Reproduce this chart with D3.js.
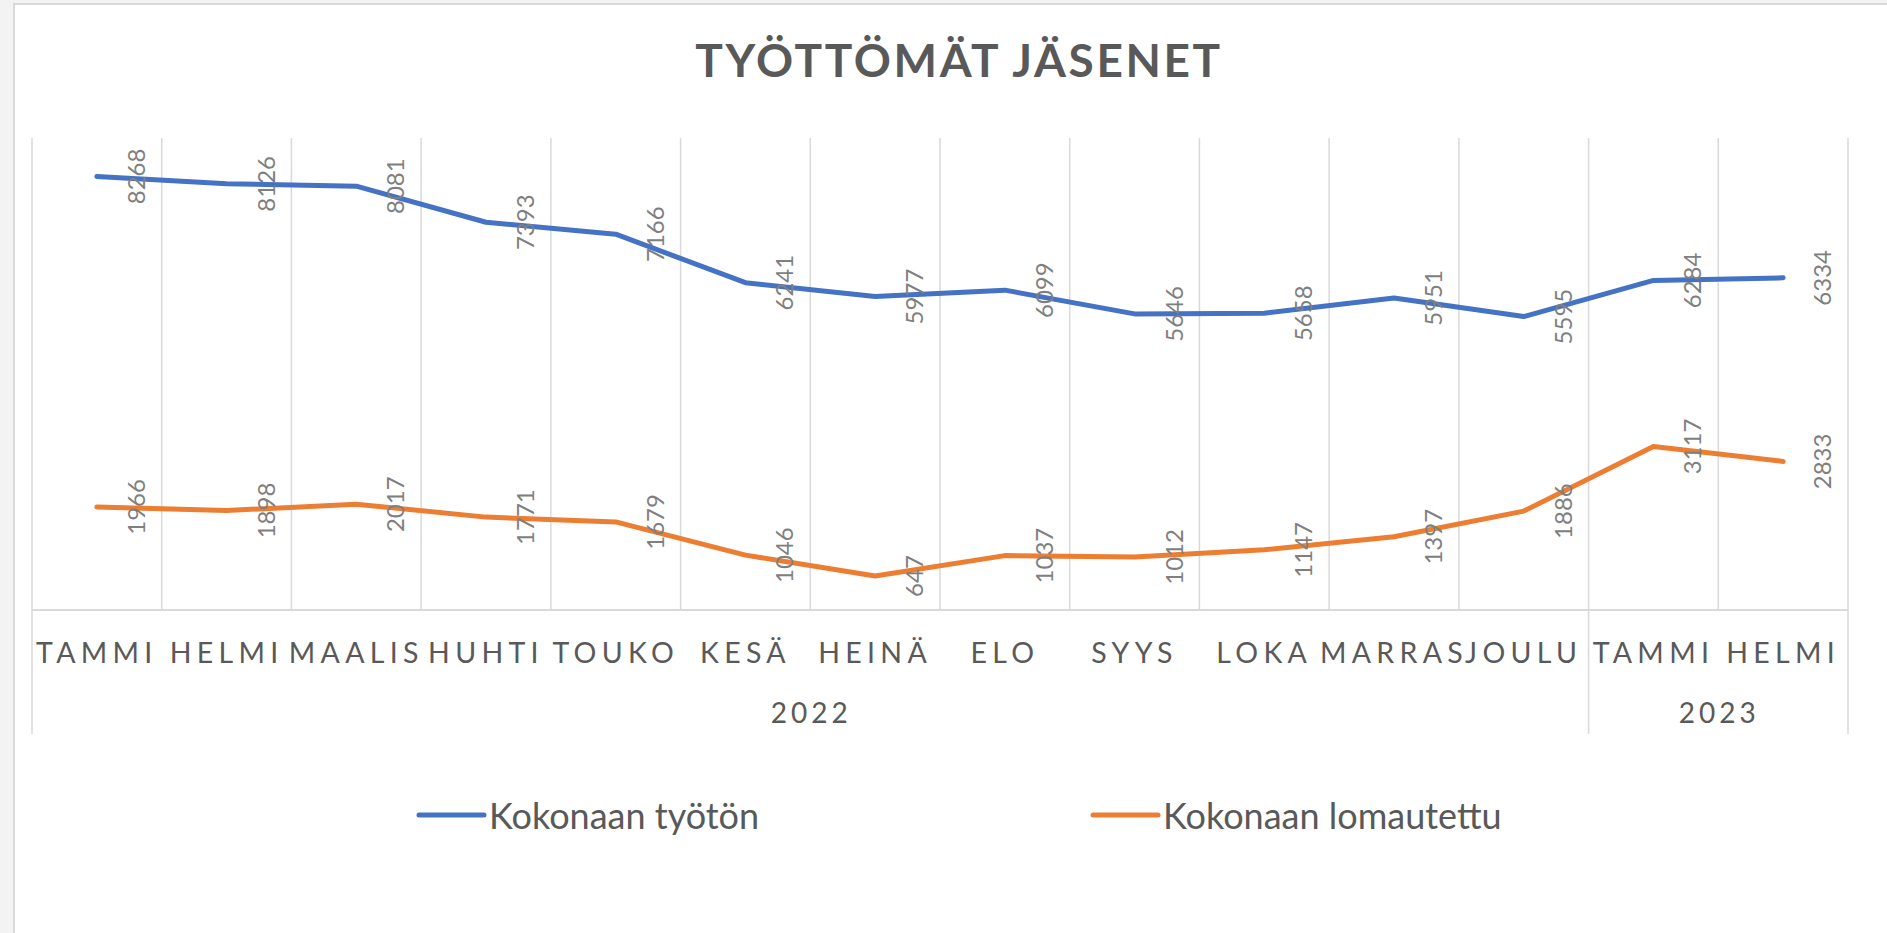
<!DOCTYPE html>
<html>
<head>
<meta charset="utf-8">
<script src="https://cdn.jsdelivr.net/npm/d3@7"></script>
<style>
  html, body { margin: 0; padding: 0; background: #f3f3f3; }
  svg { display: block; }
  text { font-family: Lato, "Open Sans", sans-serif; }
</style>
</head>
<body>
<div id="chart"></div>
<script>
// months on the x axis, with the year group each belongs to
const months = ["TAMMI", "HELMI", "MAALIS", "HUHTI", "TOUKO", "KESÄ", "HEINÄ", "ELO", "SYYS", "LOKA", "MARRAS", "JOULU", "TAMMI", "HELMI"]
const years = ["2022", "2022", "2022", "2022", "2022", "2022", "2022", "2022", "2022", "2022", "2022", "2022", "2023", "2023"]

const seriesNames = ["Kokonaan työtön", "Kokonaan lomautettu"]
const tyoton = [8268, 8126, 8081, 7393, 7166, 6241, 5977, 6099, 5646, 5658, 5951, 5595, 6284, 6334]
const lomautettu = [1966, 1898, 2017, 1771, 1679, 1046, 647, 1037, 1012, 1147, 1397, 1886, 3117, 2833]
const colors = ["#4472c4", "#ed7d31"]

const yMax = 9000

const width = 1887, height = 933
const margin = ({ top: 138, right: 39, bottom: 323, left: 32 })

const svg = d3.select('#chart')
    .append('svg')
    .attr('width', width)
    .attr('height', height)

// white chart panel with a thin grey edge
svg.append('rect')
    .attr('x', 14).attr('y', 4)
    .attr('width', width + 10).attr('height', height + 10)
    .attr('fill', '#fff')
    .attr('stroke', '#d9d9d9')
    .attr('stroke-width', 2)

const x = d3.scaleBand()
    .domain(d3.range(months.length))
    .range([margin.left, width - margin.right])

const y = d3.scaleLinear()
    .domain([0, yMax])
    .range([height - margin.bottom, margin.top])

const axisY = y(0)
const groupBottom = 734

// vertical gridlines on category boundaries
const bounds = d3.range(months.length + 1).map(i => i < months.length ? x(i) : x(i - 1) + x.bandwidth())
svg.append('g')
    .selectAll('line')
    .data(bounds)
    .join('line')
        .attr('x1', d => d).attr('x2', d => d)
        .attr('y1', margin.top).attr('y2', axisY)
        .attr('stroke', '#d9d9d9')
        .attr('stroke-width', 1.5)

// horizontal axis line
svg.append('line')
    .attr('x1', margin.left).attr('x2', width - margin.right)
    .attr('y1', axisY).attr('y2', axisY)
    .attr('stroke', '#d9d9d9')
    .attr('stroke-width', 2)

// year groups: divider lines below the axis and the year labels
const groups = d3.groups(d3.range(months.length), i => years[i])
    .map(([year, idx]) => ({ year, x0: x(idx[0]), x1: x(idx[idx.length - 1]) + x.bandwidth() }))

const dividers = [groups[0].x0, ...groups.map(g => g.x1)]
svg.append('g')
    .selectAll('line')
    .data(dividers)
    .join('line')
        .attr('x1', d => d).attr('x2', d => d)
        .attr('y1', axisY).attr('y2', groupBottom)
        .attr('stroke', '#d9d9d9')
        .attr('stroke-width', 1.5)

svg.append('g')
    .selectAll('text')
    .data(groups)
    .join('text')
        .attr('x', d => (d.x0 + d.x1) / 2 + 1)
        .attr('y', 723)
        .attr('text-anchor', 'middle')
        .attr('fill', '#595959')
        .style('font-size', '28px')
        .style('letter-spacing', '4px')
        .text(d => d.year)

// month labels
svg.append('g')
    .selectAll('text')
    .data(months)
    .join('text')
        .attr('x', (d, i) => x(i) + x.bandwidth() / 2)
        .attr('y', 663)
        .attr('text-anchor', 'middle')
        .attr('fill', '#595959')
        .style('font-size', '28.5px')
        .style('letter-spacing', '5.3px')
        .text(d => d)

// lines
const line = d3.line()
    .x((d, i) => x(i) + x.bandwidth() / 2)
    .y(d => y(d))

const allSeries = [tyoton, lomautettu]
svg.append('g')
    .selectAll('path')
    .data(allSeries)
    .join('path')
        .attr('d', d => line(d))
        .attr('fill', 'none')
        .attr('stroke', (d, i) => colors[i])
        .attr('stroke-width', 5)
        .attr('stroke-linecap', 'round')
        .attr('stroke-linejoin', 'round')

// rotated data labels to the right of each point
allSeries.forEach(values => {
    svg.append('g')
        .selectAll('text')
        .data(values)
        .join('text')
            .attr('transform', (d, i) => `translate(${x(i) + x.bandwidth() / 2 + 48},${y(d)}) rotate(-90)`)
            .attr('text-anchor', 'middle')
            .attr('fill', '#7f7f7f')
            .style('font-size', '24px')
            .text(d => d)
})

// title
svg.append('text')
    .attr('x', 959)
    .attr('y', 77)
    .attr('text-anchor', 'middle')
    .attr('fill', '#595959')
    .style('font-size', '46px')
    .style('font-weight', 'bold')
    .style('letter-spacing', '2.6px')
    .text('TYÖTTÖMÄT JÄSENET')

// legend
const legendX = [419, 1093]
const legend = svg.append('g')
    .selectAll('g')
    .data(seriesNames)
    .join('g')
        .attr('transform', (d, i) => `translate(${legendX[i]},815)`)

legend.append('line')
    .attr('x1', 0).attr('x2', 65)
    .attr('stroke', (d, i) => colors[i])
    .attr('stroke-width', 5)
    .attr('stroke-linecap', 'round')

legend.append('text')
    .attr('x', 70)
    .attr('y', 14)
    .attr('fill', '#595959')
    .style('font-size', '36px')
    .text(d => d)
</script>
</body>
</html>
